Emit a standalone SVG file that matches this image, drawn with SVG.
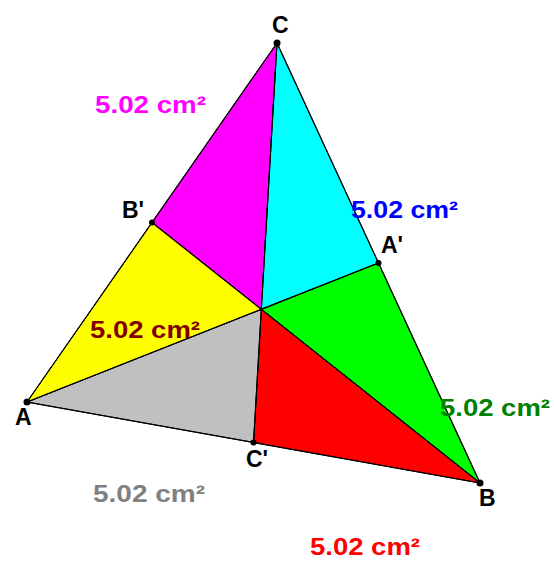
<svg xmlns="http://www.w3.org/2000/svg" width="554" height="561" viewBox="0 0 554 561">
<style>
.r{stroke:#000;stroke-width:1;stroke-linejoin:round}
.ln{stroke:#000;stroke-width:1.2;fill:none}
.pt{fill:#000}
.lb{font-family:"Liberation Sans",Arial,sans-serif;font-weight:bold;font-size:23px;fill:#000}
.ar{font-family:"Liberation Sans",Arial,sans-serif;font-weight:bold;font-size:24px}
</style>
<rect width="554" height="561" fill="#fff"/>
<g id="regions">
<g id="r-magenta"><polygon class="r" fill="#FF00FF" points="277,43 152,222.5 261.3,309.3"/></g>
<g id="r-cyan"><polygon class="r" fill="#00FFFF" points="277,43 261.3,309.3 378.5,263"/></g>
<g id="r-green"><polygon class="r" fill="#00FF00" points="378.5,263 261.3,309.3 480,483"/></g>
<g id="r-red"><polygon class="r" fill="#FF0000" points="480,483 261.3,309.3 253.5,442.5"/></g>
<g id="r-gray"><polygon class="r" fill="#C0C0C0" points="253.5,442.5 261.3,309.3 27,402"/></g>
<g id="r-yellow"><polygon class="r" fill="#FFFF00" points="27,402 261.3,309.3 152,222.5"/></g>
</g>
<g id="connectors">
<polygon class="ln" points="277,43 27,402 480,483"/>
<line class="ln" x1="277" y1="43" x2="253.5" y2="442.5"/>
<line class="ln" x1="27" y1="402" x2="378.5" y2="263"/>
<line class="ln" x1="480" y1="483" x2="152" y2="222.5"/>
</g>
<g id="C"><circle class="pt" cx="277" cy="43" r="3.5"/><text class="lb" x="272" y="33">C</text></g>
<g id="A"><circle class="pt" cx="27" cy="402" r="3.5"/><text class="lb" x="15" y="425">A</text></g>
<g id="B"><circle class="pt" cx="480" cy="483" r="3.5"/><text class="lb" x="479" y="506">B</text></g>
<g id="Bp"><circle class="pt" cx="152" cy="222.5" r="3"/><text class="lb" x="122" y="218">B'</text></g>
<g id="Ap"><circle class="pt" cx="378.5" cy="263" r="3"/><text class="lb" x="381" y="253">A'</text></g>
<g id="Cp"><circle class="pt" cx="253.5" cy="442.5" r="3"/><text class="lb" x="246" y="467">C'</text></g>
<g id="areas">
<text class="ar" fill="#FF00FF" x="95" y="113" textLength="111" lengthAdjust="spacingAndGlyphs">5.02 cm²</text>
<text class="ar" fill="#0000FF" x="351" y="218" textLength="107" lengthAdjust="spacingAndGlyphs">5.02 cm²</text>
<text class="ar" fill="#800000" x="90" y="338" textLength="110" lengthAdjust="spacingAndGlyphs">5.02 cm²</text>
<text class="ar" fill="#008000" x="440" y="416" textLength="110" lengthAdjust="spacingAndGlyphs">5.02 cm²</text>
<text class="ar" fill="#808080" x="93" y="502" textLength="112" lengthAdjust="spacingAndGlyphs">5.02 cm²</text>
<text class="ar" fill="#FF0000" x="310" y="555" textLength="110" lengthAdjust="spacingAndGlyphs">5.02 cm²</text>
</g>
</svg>
